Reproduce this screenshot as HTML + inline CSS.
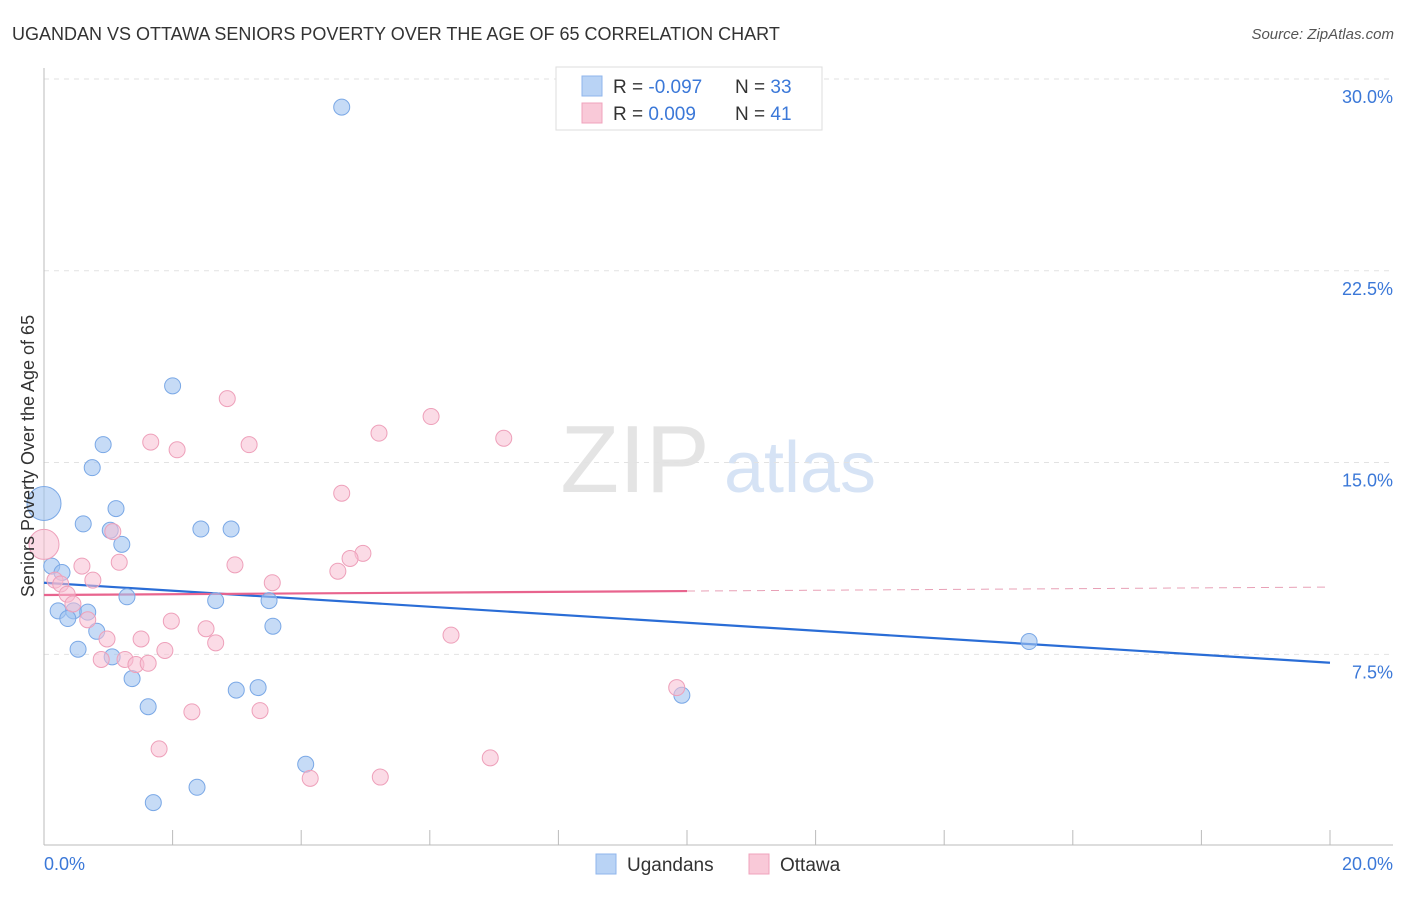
<!DOCTYPE html>
<html><head><meta charset="utf-8"><style>
body{margin:0;background:#fff;font-family:"Liberation Sans",sans-serif;}
svg text{font-family:"Liberation Sans",sans-serif;}
</style></head><body>
<svg id="chart" width="1406" height="892" xmlns="http://www.w3.org/2000/svg">
<text x="12" y="40" font-size="18" fill="#333">UGANDAN VS OTTAWA SENIORS POVERTY OVER THE AGE OF 65 CORRELATION CHART</text>
<text x="1394" y="39" font-size="15" fill="#555" font-style="italic" text-anchor="end">Source: ZipAtlas.com</text>
<text x="635" y="492" font-size="96" fill="#e4e4e4" font-family="Liberation Serif" text-anchor="middle">ZIP</text>
<text x="800" y="492" font-size="72" fill="#d6e3f5" text-anchor="middle">atlas</text>
<g id="grid"></g><g id="axes"></g><g id="trend"></g><g id="pts"></g>
<text transform="translate(34,456) rotate(-90)" font-size="18" fill="#333" text-anchor="middle">Seniors Poverty Over the Age of 65</text>
<text x="44" y="870" font-size="18" fill="#3b78d8">0.0%</text>
<text x="1393" y="870" font-size="18" fill="#3b78d8" text-anchor="end">20.0%</text>
<g>
<rect x="556" y="67" width="266" height="63" fill="#fff" stroke="#ddd"/>
<rect x="582" y="76" width="20" height="20" fill="#b9d3f5" stroke="#8fb6ec"/>
<rect x="582" y="103" width="20" height="20" fill="#f9c9d8" stroke="#f0a3bc"/>
<text x="613" y="93" font-size="19" fill="#333">R = <tspan fill="#3b78d8">-0.097</tspan></text>
<text x="735" y="93" font-size="19" fill="#333">N = <tspan fill="#3b78d8">33</tspan></text>
<text x="613" y="120" font-size="19" fill="#333">R = <tspan fill="#3b78d8"> 0.009</tspan></text>
<text x="735" y="120" font-size="19" fill="#333">N = <tspan fill="#3b78d8"> 41</tspan></text>
</g>
<g>
<rect x="596" y="854" width="20" height="20" fill="#b9d3f5" stroke="#8fb6ec"/>
<text x="627" y="871" font-size="19" fill="#333">Ugandans</text>
<rect x="749" y="854" width="20" height="20" fill="#f9c9d8" stroke="#f0a3bc"/>
<text x="780" y="871" font-size="19" fill="#333">Ottawa</text>
</g>
</svg>
<script>
const yTicks=[7.5,15,22.5,30];
const yTickLabels=["7.5%","15.0%","22.5%","30.0%"];
const xTicks=[0,2,4,6,8,10,12,14,16,18,20];
const blueX=[4.63,0,2.0,0.92,0.75,1.12,0.61,1.03,2.44,2.91,1.21,0.12,0.28,1.29,2.67,3.5,0.22,0.46,0.68,0.37,3.56,0.82,0.53,1.06,1.37,2.99,3.33,1.62,9.92,15.32,4.07,2.38,1.7];
const blueY=[28.9,13.4,18.0,15.7,14.8,13.2,12.6,12.35,12.4,12.4,11.8,10.95,10.7,9.75,9.6,9.6,9.2,9.2,9.15,8.9,8.6,8.4,7.7,7.4,6.55,6.1,6.2,5.45,5.9,8.0,3.2,2.3,1.7];
const pinkX=[0,2.85,6.02,5.21,7.15,1.66,3.19,2.07,4.63,1.07,4.96,4.76,2.97,0.59,1.17,4.57,0.17,0.76,0.26,3.55,0.36,0.45,0.68,1.98,2.52,6.33,0.98,1.51,2.67,1.88,0.89,1.26,1.43,1.62,9.84,3.36,2.3,1.79,6.94,4.14,5.23];
const pinkY=[11.8,17.5,16.8,16.15,15.95,15.8,15.7,15.5,13.8,12.3,11.45,11.25,11.0,10.95,11.1,10.75,10.4,10.4,10.25,10.3,9.85,9.47,8.85,8.8,8.5,8.25,8.1,8.1,7.95,7.65,7.3,7.3,7.1,7.15,6.2,5.3,5.25,3.8,3.45,2.65,2.7];
const blueTrend=[10.3,7.17];
const pinkTrend=[9.82,10.13];
const NS="http://www.w3.org/2000/svg";
const X=v=>44+v*64.3;
const Y=v=>79+(30-v)*25.57;
function mk(p,tag,a){const e=document.createElementNS(NS,tag);for(const k in a)e.setAttribute(k,a[k]);document.getElementById(p).appendChild(e);return e;}
yTicks.forEach((t,i)=>{
 const l=mk('grid','line',{x1:44,x2:1393,y1:Y(t),y2:Y(t),stroke:'#e2e2e2','stroke-dasharray':'5,5'});
 
 
 const tx=mk('grid','text',{x:1393,y:Y(t)+24,'font-size':18,fill:'#3b78d8','text-anchor':'end'});
 tx.textContent=yTickLabels[i];
 
 
});
let a=mk('axes','line',{x1:44,x2:44,y1:68,y2:845,stroke:'#bbb'});


a=mk('axes','line',{x1:44,x2:1393,y1:845,y2:845,stroke:'#bbb'});


xTicks.forEach(t=>{if(t===0)return;
 const l=mk('axes','line',{x1:X(t),x2:X(t),y1:830,y2:845,stroke:'#bbb'});
 
 
});
let tl=mk('trend','line',{x1:X(0),x2:X(20),y1:Y(blueTrend[0]),y2:Y(blueTrend[1]),stroke:'#2a6dd6','stroke-width':2.2});


const pm=pinkTrend[0]+(pinkTrend[1]-pinkTrend[0])*0.5;
tl=mk('trend','line',{x1:X(0),x2:X(10),y1:Y(pinkTrend[0]),y2:Y(pm),stroke:'#e8648e','stroke-width':2.2});


tl=mk('trend','line',{x1:X(10),x2:X(20),y1:Y(pm),y2:Y(pinkTrend[1]),stroke:'#e8a0b6','stroke-width':1,'stroke-dasharray':'8,6'});


blueX.forEach((x,i)=>{
 const c=mk('pts','circle',{cx:X(x),cy:Y(blueY[i]),r:i===1?17:8,fill:'rgba(160,195,240,0.6)',stroke:'#7aa8e6','stroke-width':1});
 
 
});
pinkX.forEach((x,i)=>{
 const c=mk('pts','circle',{cx:X(x),cy:Y(pinkY[i]),r:i===0?15:8,fill:'rgba(248,190,210,0.55)',stroke:'#eea0ba','stroke-width':1});
 
 
});
</script>
</body></html>
